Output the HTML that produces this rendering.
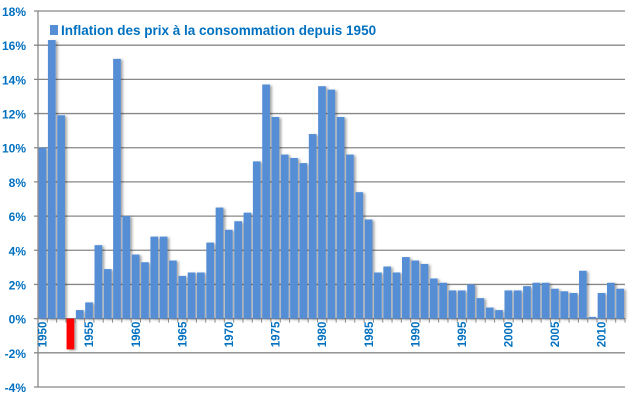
<!DOCTYPE html>
<html><head><meta charset="utf-8"><style>
html,body{margin:0;padding:0;background:#fff;}
svg{display:block;font-family:"Liberation Sans",sans-serif;}
</style></head><body>
<svg id="chart" width="630" height="400">
<defs><filter id="sh" x="-20%" y="-5%" width="160%" height="115%"><feDropShadow dx="2" dy="1" stdDeviation="1.2" flood-color="#000" flood-opacity="0.35"/></filter></defs>
<g id="grid"></g><g id="bars" filter="url(#sh)"></g><g id="axes"></g>
<g>
<rect x="50" y="25" width="8" height="10" fill="#558ED5"/>
<text x="61" y="35" font-size="13.5" font-weight="bold" fill="#0070C0">Inflation des prix à la consommation depuis 1950</text>
</g>
</svg>
<script>
const years=[];for(let y=1950;y<=2012;y++)years.push(y);
const values=[10.0,16.3,11.9,-1.8,0.5,0.95,4.3,2.9,15.2,6.0,3.75,3.3,4.8,4.8,3.4,2.5,2.7,2.7,4.45,6.5,5.2,5.7,6.2,9.2,13.7,11.8,9.6,9.4,9.1,10.8,13.6,13.4,11.8,9.6,7.4,5.8,2.7,3.05,2.7,3.6,3.4,3.2,2.35,2.1,1.65,1.65,2.0,1.2,0.65,0.5,1.65,1.65,1.9,2.1,2.1,1.75,1.6,1.5,2.8,0.1,1.5,2.1,1.75];
const yTicks=[-4,-2,0,2,4,6,8,10,12,14,16,18];
const xLabels=[1950,1955,1960,1965,1970,1975,1980,1985,1990,1995,2000,2005,2010];
const NS="http://www.w3.org/2000/svg";
const x0=38,x1=625,yTop=11,yBot=387,vMin=-4,vMax=18;
const step=(x1-x0)/years.length;
const ys=v=>yBot-(v-vMin)/(vMax-vMin)*(yBot-yTop);
const xs=i=>x0+i*step;
function mk(t,a,p){const e=document.createElementNS(NS,t);for(const k in a)e.setAttribute(k,a[k]);p.appendChild(e);return e;}
const grid=document.getElementById('grid'),bars=document.getElementById('bars'),axes=document.getElementById('axes');
yTicks.forEach(v=>{
 const l=mk('line',{x1:x0-4,x2:x1,y1:ys(v),y2:ys(v),stroke:'#888','stroke-width':1.3},grid);
 
 
 const t=mk('text',{x:26,y:ys(v)+5,'text-anchor':'end','font-size':12,'font-weight':'bold',fill:'#0070C0'},axes);
 t.textContent=v+'%';
 
 
});
const ax=mk('line',{x1:x0,x2:x0,y1:yTop,y2:yBot,stroke:'#888','stroke-width':1.3},axes);


for(let i=0;i<=years.length;i++){
 const t=mk('line',{x1:xs(i),x2:xs(i),y1:ys(0),y2:ys(0)+4,stroke:'#888'},axes);
 
 
}
values.forEach((v,i)=>{
 const a=ys(Math.max(v,0)),b=ys(Math.min(v,0));
 const r=mk('rect',{x:xs(i)+0.6,y:a,width:step-1.6,height:Math.max(b-a,0.5),fill:v<0?'#FF0000':'#558ED5'},bars);
 
 
});
xLabels.forEach(yr=>{
 const i=years.indexOf(yr);const cx=xs(i)+step/2+4;const cy=ys(0)+3;
 const t=mk('text',{x:cx,y:cy,'text-anchor':'end','font-size':11.5,'font-weight':'bold',fill:'#0070C0',transform:`rotate(-90 ${cx} ${cy})`},axes);
 t.textContent=yr;
 
 
});
</script>
</body></html>
